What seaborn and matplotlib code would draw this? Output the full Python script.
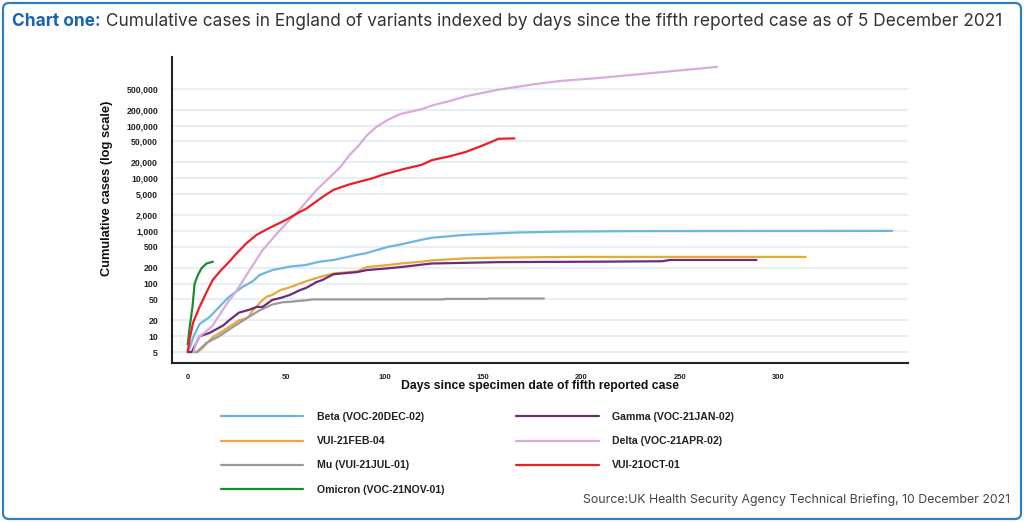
import numpy as np
import pandas as pd
import matplotlib
matplotlib.use("Agg")
import matplotlib.pyplot as plt
import matplotlib.patches as mpatches
from matplotlib.ticker import FixedLocator, FixedFormatter, NullLocator
import seaborn as sns

# ---------------- data ----------------
beta_days = [0, 1, 3, 6, 11, 16, 21, 28, 33, 36.5, 43, 52, 60, 67, 74, 86, 91, 102, 108, 119, 124, 141, 167, 192, 230, 300, 358]
beta_cases = [5, 6, 10, 17, 23, 36, 56, 87, 110, 145, 180, 210, 225, 260, 280, 350, 380, 500, 550, 680, 740, 840, 930, 970, 990, 995, 1000]

gamma_days = [0, 2, 4, 6, 11, 18, 21, 26, 31.5, 35, 38, 43, 47, 52, 57, 60, 65.5, 68.5, 74, 86, 91, 102, 108, 124, 158, 209, 241, 245, 289]
gamma_cases = [5, 5, 7, 10, 11.5, 16, 20, 28, 32, 36, 36, 49, 53, 61, 75, 82, 107, 117, 150, 165, 180, 195, 205, 240, 255, 260, 265, 280, 280]

feb04_days = [3, 5, 7.6, 12.7, 17, 21, 26, 30, 31.5, 33, 35, 36.5, 40, 43, 47, 52, 57, 60, 67, 74, 86, 91, 102, 108, 119, 124, 141, 158, 192, 314]
feb04_cases = [5, 5, 6, 9.6, 12, 15, 20, 22, 25, 31, 36, 43, 56, 61, 75, 85, 100, 110, 133, 155, 170, 205, 225, 240, 260, 275, 300, 310, 320, 320]

delta_days = [3, 4, 6, 9, 12.7, 16, 20, 25, 31.5, 38, 46, 53, 55, 60, 65.5, 72, 78, 82, 87, 91, 96, 102, 108, 119, 124, 132, 141.5, 158, 175, 189, 209, 243, 269]
delta_cases = [5, 7, 10, 12, 16, 25, 42, 75, 180, 430, 950, 1800, 2100, 3500, 6000, 10300, 17000, 27000, 42000, 65000, 95000, 130000, 165000, 205000, 240000, 285000, 360000, 480000, 600000, 700000, 800000, 1050000, 1300000]

mu_days = [3, 4.5, 9.6, 16, 23, 30, 36.5, 43, 48, 52, 57, 60, 63.5, 130, 131, 152, 153, 181]
mu_cases = [5, 5, 7.5, 10, 15, 22, 31, 40, 44, 45, 47, 48, 50, 50, 51, 51, 52, 52]

oct01_days = [0, 1, 2.7, 6, 9.6, 12.7, 17, 21, 25, 30, 35, 41.6, 50, 57, 60, 68.5, 74, 82, 94, 99, 110, 119, 124, 133, 141.5, 150, 158, 166]
oct01_cases = [5, 9, 18, 36, 69, 117, 181, 257, 380, 590, 840, 1140, 1620, 2300, 2600, 4400, 6000, 7600, 10000, 11600, 15000, 18000, 22000, 26000, 31700, 42000, 56000, 57000]

omicron_days = [0, 1, 2.4, 3.5, 5.2, 7, 9.5, 12.8]
omicron_cases = [7, 15, 36, 100, 146, 195, 240, 260]

variant_names = ["Beta (VOC-20DEC-02)", "VUI-21FEB-04", "Mu (VUI-21JUL-01)", "Omicron (VOC-21NOV-01)",
                 "Gamma (VOC-21JAN-02)", "Delta (VOC-21APR-02)", "VUI-21OCT-01"]
variant_colors = ["#6cb6e4", "#e8a83c", "#9a9a9a", "#1e8a30", "#6b2c78", "#dbaadd", "#ec1f27"]

x_ticks = [0, 50, 100, 150, 200, 250, 300]
y_ticks = [5, 10, 20, 50, 100, 200, 500, 1000, 2000, 5000, 10000, 20000, 50000, 100000, 200000, 500000]
y_tick_labels = ["5", "10", "20", "50", "100", "200", "500", "1,000", "2,000", "5,000", "10,000",
                 "20,000", "50,000", "100,000", "200,000", "500,000"]

title_bold = "Chart one:"
title_rest = " Cumulative cases in England of variants indexed by days since the fifth reported case as of 5 December 2021"
source_text = "Source:UK Health Security Agency Technical Briefing, 10 December 2021"

series = {
    "Beta (VOC-20DEC-02)": (beta_days, beta_cases),
    "VUI-21FEB-04": (feb04_days, feb04_cases),
    "Mu (VUI-21JUL-01)": (mu_days, mu_cases),
    "Omicron (VOC-21NOV-01)": (omicron_days, omicron_cases),
    "Gamma (VOC-21JAN-02)": (gamma_days, gamma_cases),
    "Delta (VOC-21APR-02)": (delta_days, delta_cases),
    "VUI-21OCT-01": (oct01_days, oct01_cases),
}
rows = []
for name, (d, c) in series.items():
    for dd, cc in zip(d, c):
        rows.append({"day": dd, "cases": cc, "variant": name})
df = pd.DataFrame(rows)

# ---------------- styling ----------------
sns.set_style("white")
plt.rcParams["font.family"] = ["Liberation Sans", "DejaVu Sans"]

W, H = 1024, 522
fig = plt.figure(figsize=(W / 100, H / 100), dpi=100)
ax = fig.add_axes([172 / W, 1 - 363 / H, (908 - 172) / W, (363 - 57) / H])

sns.lineplot(data=df, x="day", y="cases", hue="variant", hue_order=variant_names,
             palette=dict(zip(variant_names, variant_colors)), estimator=None, sort=True,
             linewidth=1.6, ax=ax)

ax.set_yscale("log")
ax.set_xlim(-8, 366)
ax.set_ylim(3.1, 2.0e6)
ax.yaxis.set_major_locator(FixedLocator(y_ticks))
ax.yaxis.set_major_formatter(FixedFormatter(y_tick_labels))
ax.yaxis.set_minor_locator(NullLocator())
ax.set_xticks(x_ticks)
ax.set_xticklabels([str(t) for t in x_ticks])

ax.yaxis.grid(True, color="#e7eff5", linewidth=1.6)
ax.xaxis.grid(False)
ax.set_axisbelow(True)

for s in ["top", "right"]:
    ax.spines[s].set_visible(False)
for s in ["left", "bottom"]:
    ax.spines[s].set_color("#222222")
    ax.spines[s].set_linewidth(1.5)

ax.tick_params(axis="y", direction="out", length=8, width=1.4, color="#222222", pad=2,
               labelsize=6.3, labelcolor="#222222")
ax.tick_params(axis="x", direction="out", length=4.5, width=1.4, color="#222222", pad=3.5,
               labelsize=5.5, labelcolor="#222222")
for lab in ax.get_yticklabels() + ax.get_xticklabels():
    lab.set_fontweight("bold")

ax.set_ylabel("Cumulative cases (log scale)", fontsize=9.3, fontweight="bold", color="#111111")
ax.yaxis.set_label_coords((107 - 172) / (908 - 172), (363 - 188) / (363 - 57))
ax.yaxis.label.set_va("center")
ax.set_xlabel("Days since specimen date of fifth reported case", fontsize=8.8, fontweight="bold",
              color="#111111")
ax.xaxis.set_label_coords(0.5, -(386 - 363) / (363 - 57))
ax.xaxis.label.set_va("center")

# legend
handles, labels = ax.get_legend_handles_labels()
ax.get_legend().remove()
leg = fig.legend(handles, labels, ncol=2, loc="upper left",
                 bbox_to_anchor=(221 / W, 1 - 412 / H), frameon=False,
                 prop={"family": ["Liberation Sans"], "weight": "bold", "size": 7.6},
                 handlelength=7.8, handletextpad=1.3, columnspacing=6.8,
                 labelspacing=1.35, borderpad=0, borderaxespad=0)
for txt in leg.get_texts():
    txt.set_color("#222222")
for ln in leg.get_lines():
    ln.set_linewidth(1.6)

# frame
frame = mpatches.FancyBboxPatch((0.03, 0.03), 10.18, 5.16,
                                boxstyle="round,pad=0,rounding_size=0.06",
                                transform=fig.dpi_scale_trans, fill=False,
                                edgecolor="#2e7fc2", linewidth=1.6)
fig.patches.append(frame)

# title (fit to the reference width)
fig.canvas.draw()
r = fig.canvas.get_renderer()
tfs = 12
ty = 1 - 22 / H
t1 = fig.text(12 / W, ty, title_bold, fontsize=tfs, fontweight="bold", color="#1764b0",
              family=["Inter", "DejaVu Sans"], va="center", ha="left")
t2 = fig.text(0, ty, title_rest, fontsize=tfs, color="#333333",
              family=["Inter", "DejaVu Sans"], va="center", ha="left")
w1 = t1.get_window_extent(r).width
w2 = t2.get_window_extent(r).width
scale = (1000 - 12) / (w1 + w2)
t1.set_fontsize(tfs * scale)
t2.set_fontsize(tfs * scale)
w1 = t1.get_window_extent(r).width
t2.set_x((12 + w1) / W)

s = fig.text(1010 / W, 1 - 500 / H, source_text, fontsize=8.5, color="#444444",
             family=["Inter", "DejaVu Sans"], va="center", ha="right")
sw = s.get_window_extent(r).width
s.set_fontsize(8.5 * (1010 - 583) / sw)

fig.savefig("out.png", dpi=100)
